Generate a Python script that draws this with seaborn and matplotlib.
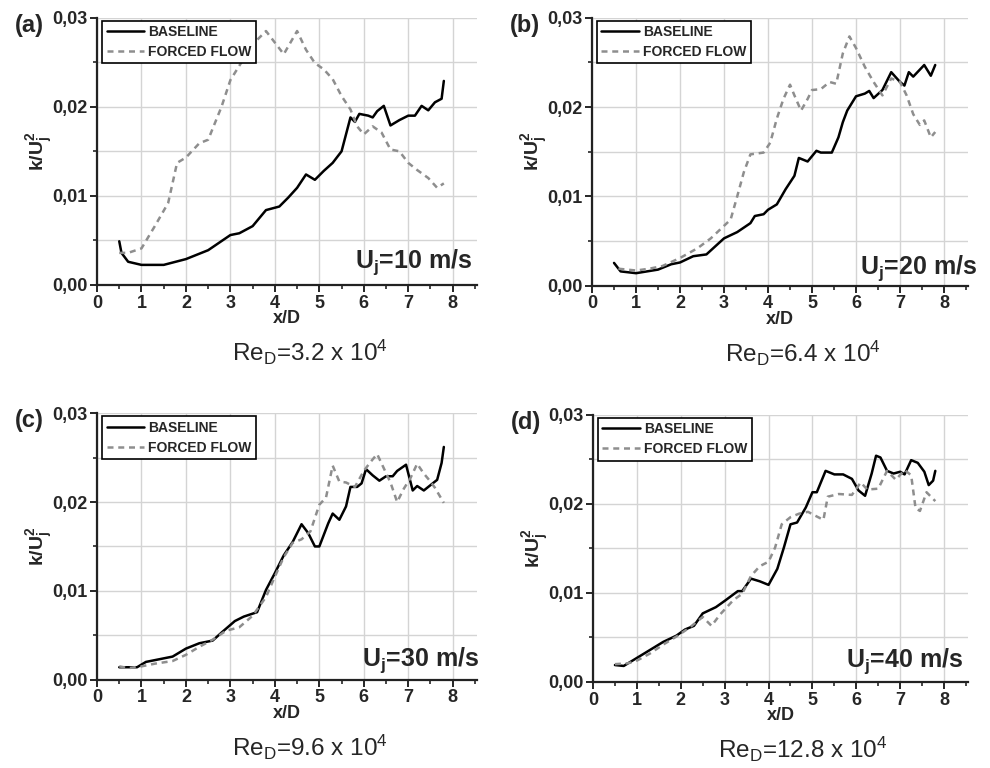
import matplotlib
matplotlib.use("Agg")
import matplotlib.pyplot as plt
import seaborn as sns
import pandas as pd
from matplotlib.ticker import MultipleLocator, FuncFormatter

# ---------------- data ----------------
a_base_x = [0.5, 0.55, 0.7, 1.0, 1.5, 2.0, 2.5, 3.0, 3.2, 3.5, 3.8, 4.1, 4.3, 4.5, 4.7, 4.9, 5.1, 5.3, 5.5, 5.7, 5.8, 5.9, 6.1, 6.2, 6.3, 6.45, 6.6, 6.8, 7.0, 7.15, 7.3, 7.45, 7.6, 7.75, 7.8]
a_base_y = [0.0049, 0.0036, 0.0026, 0.00225, 0.00225, 0.0029, 0.0039, 0.0056, 0.0058, 0.0066, 0.0084, 0.0088, 0.0098, 0.0109, 0.0124, 0.0118, 0.0128, 0.0137, 0.0150, 0.0188, 0.0183, 0.0192, 0.0190, 0.0188, 0.0195, 0.0201, 0.0179, 0.0185, 0.0190, 0.0190, 0.0201, 0.0196, 0.0205, 0.0209, 0.0229]
a_forc_x = [0.5, 0.7, 1.0, 1.3, 1.6, 1.8, 2.0, 2.3, 2.5, 2.8, 3.0, 3.2, 3.5, 3.8, 4.0, 4.2, 4.5, 4.7, 4.9, 5.1, 5.3, 5.5, 5.7, 5.85, 6.0, 6.2, 6.4, 6.6, 6.8, 7.0, 7.2, 7.45, 7.65, 7.8]
a_forc_y = [0.0036, 0.0036, 0.0041, 0.0066, 0.0092, 0.0137, 0.0143, 0.0159, 0.0163, 0.0200, 0.0230, 0.0246, 0.0270, 0.0285, 0.0272, 0.0259, 0.0285, 0.0264, 0.0249, 0.0242, 0.0231, 0.0212, 0.0197, 0.0178, 0.0169, 0.0178, 0.0171, 0.0152, 0.0150, 0.0137, 0.0129, 0.0120, 0.0109, 0.0114]

b_base_x = [0.5, 0.65, 1.0, 1.5, 1.8, 2.0, 2.3, 2.6, 2.8, 3.0, 3.3, 3.6, 3.7, 3.9, 4.0, 4.2, 4.4, 4.6, 4.7, 4.9, 5.1, 5.2, 5.45, 5.6, 5.7, 5.8, 6.0, 6.2, 6.3, 6.4, 6.6, 6.8, 7.0, 7.1, 7.2, 7.3, 7.55, 7.7, 7.8]
b_base_y = [0.00255, 0.0016, 0.0014, 0.0018, 0.0024, 0.0026, 0.0033, 0.0035, 0.0044, 0.0053, 0.0060, 0.0070, 0.0078, 0.0080, 0.0085, 0.0091, 0.0108, 0.0123, 0.0143, 0.0139, 0.0151, 0.0149, 0.0149, 0.0166, 0.0183, 0.0196, 0.0212, 0.0215, 0.0218, 0.0210, 0.0219, 0.0239, 0.0228, 0.0224, 0.0239, 0.0234, 0.0247, 0.0235, 0.0247]
b_forc_x = [0.6, 1.0, 1.3, 1.6, 2.0, 2.4, 2.7, 3.0, 3.15, 3.3, 3.45, 3.6, 3.9, 4.05, 4.2, 4.35, 4.5, 4.6, 4.75, 4.9, 5.0, 5.2, 5.4, 5.55, 5.7, 5.85, 6.0, 6.2, 6.4, 6.6, 6.8, 7.0, 7.15, 7.3, 7.45, 7.55, 7.7, 7.8]
b_forc_y = [0.0019, 0.0017, 0.0019, 0.0022, 0.0031, 0.0042, 0.0053, 0.0067, 0.0074, 0.0100, 0.0127, 0.0147, 0.0149, 0.0160, 0.0187, 0.0209, 0.0225, 0.0213, 0.0196, 0.0209, 0.0219, 0.0220, 0.0228, 0.0226, 0.0260, 0.0279, 0.0266, 0.0245, 0.0228, 0.0213, 0.0232, 0.0228, 0.0213, 0.0192, 0.0180, 0.0185, 0.0166, 0.0172]

c_base_x = [0.5, 0.9, 1.1, 1.4, 1.7, 2.0, 2.3, 2.6, 2.8, 3.1, 3.3, 3.6, 3.8, 4.0, 4.2, 4.4, 4.6, 4.75, 4.9, 5.0, 5.2, 5.3, 5.45, 5.6, 5.7, 5.85, 5.95, 6.05, 6.2, 6.35, 6.5, 6.65, 6.75, 6.95, 7.1, 7.2, 7.35, 7.5, 7.65, 7.75, 7.8]
c_base_y = [0.0014, 0.0014, 0.0020, 0.0023, 0.0026, 0.0035, 0.0041, 0.0044, 0.0053, 0.0066, 0.0071, 0.0076, 0.0101, 0.0120, 0.0140, 0.0155, 0.0175, 0.0165, 0.0150, 0.0150, 0.0176, 0.0187, 0.0180, 0.0195, 0.0217, 0.0217, 0.0221, 0.0237, 0.0230, 0.0224, 0.0229, 0.0229, 0.0235, 0.0242, 0.0213, 0.0218, 0.0213, 0.0219, 0.0225, 0.0244, 0.0262]
c_forc_x = [0.5, 0.7, 1.0, 1.3, 1.7, 2.0, 2.3, 2.6, 2.9, 3.2, 3.5, 3.8, 4.0, 4.2, 4.4, 4.6, 4.8, 5.0, 5.15, 5.3, 5.45, 5.6, 5.8, 6.0, 6.15, 6.3, 6.45, 6.6, 6.75, 6.9, 7.05, 7.2, 7.35, 7.5, 7.6, 7.8]
c_forc_y = [0.0015, 0.0013, 0.0015, 0.0018, 0.0021, 0.0028, 0.0037, 0.0045, 0.0055, 0.0059, 0.0072, 0.0093, 0.0116, 0.0138, 0.0154, 0.0158, 0.0167, 0.0197, 0.0205, 0.0241, 0.0223, 0.0222, 0.0217, 0.0235, 0.0245, 0.0254, 0.0238, 0.0222, 0.0200, 0.0215, 0.0227, 0.0243, 0.0232, 0.0223, 0.0216, 0.0199]

d_base_x = [0.5, 0.7, 1.0, 1.3, 1.6, 1.9, 2.1, 2.3, 2.5, 2.8, 3.0, 3.3, 3.4, 3.6, 3.8, 4.0, 4.2, 4.35, 4.5, 4.65, 4.85, 5.0, 5.1, 5.3, 5.5, 5.7, 5.9, 6.05, 6.2, 6.35, 6.45, 6.55, 6.7, 6.85, 7.0, 7.1, 7.25, 7.4, 7.55, 7.65, 7.75, 7.8]
d_base_y = [0.0019, 0.0018, 0.0027, 0.0036, 0.0045, 0.0052, 0.0059, 0.0063, 0.0077, 0.0084, 0.0091, 0.0102, 0.0102, 0.0116, 0.0113, 0.0109, 0.0127, 0.0151, 0.0177, 0.0179, 0.0196, 0.0213, 0.0213, 0.0237, 0.0233, 0.0233, 0.0228, 0.0215, 0.0209, 0.0234, 0.0254, 0.0252, 0.0237, 0.0234, 0.0236, 0.0233, 0.0249, 0.0246, 0.0236, 0.0221, 0.0226, 0.0237]
d_forc_x = [0.5, 0.8, 1.0, 1.3, 1.6, 1.9, 2.2, 2.5, 2.7, 2.9, 3.2, 3.4, 3.6, 3.8, 4.0, 4.15, 4.3, 4.5, 4.7, 4.9, 5.05, 5.25, 5.35, 5.6, 5.9, 6.1, 6.25, 6.5, 6.7, 6.9, 7.1, 7.25, 7.35, 7.45, 7.6, 7.8]
d_forc_y = [0.0020, 0.0021, 0.0024, 0.0032, 0.0042, 0.0051, 0.0061, 0.0073, 0.0063, 0.0076, 0.0092, 0.0099, 0.0119, 0.0130, 0.0135, 0.0151, 0.0177, 0.0185, 0.0189, 0.0191, 0.0187, 0.0182, 0.0208, 0.0211, 0.0210, 0.0224, 0.0216, 0.0217, 0.0237, 0.0227, 0.0238, 0.0232, 0.0195, 0.0192, 0.0213, 0.0203]

panel_labels = ["(a)", "(b)", "(c)", "(d)"]
speed_labels = ["10", "20", "30", "40"]
re_labels = ["3.2", "6.4", "9.6", "12.8"]
series_names = ["BASELINE", "FORCED FLOW"]

panels = [
    (a_base_x, a_base_y, a_forc_x, a_forc_y),
    (b_base_x, b_base_y, b_forc_x, b_forc_y),
    (c_base_x, c_base_y, c_forc_x, c_forc_y),
    (d_base_x, d_base_y, d_forc_x, d_forc_y),
]

# ---------------- style ----------------
sns.set_theme(style="ticks")
plt.rcParams["font.family"] = ["Liberation Sans", "DejaVu Sans"]
plt.rcParams["mathtext.fontset"] = "custom"
plt.rcParams["mathtext.rm"] = "Liberation Sans"
plt.rcParams["mathtext.bf"] = "Liberation Sans:bold"
plt.rcParams["mathtext.it"] = "Liberation Sans:italic"

fig = plt.figure(figsize=(9.9, 7.68), dpi=100)

positions = [
    (0.098, 0.629, 0.384, 0.348),
    (0.598, 0.628, 0.380, 0.349),
    (0.098, 0.115, 0.384, 0.347),
    (0.599, 0.112, 0.379, 0.348),
]
uj_pos = [(0.987, 0.064), (1.024, 0.045), (1.005, 0.052), (0.987, 0.056)]

def fmt(v, _):
    return ("%.2f" % v).replace(".", ",")

for i, (bx, by, fx, fy) in enumerate(panels):
    ax = fig.add_axes(positions[i])
    df = pd.concat([
        pd.DataFrame({"x": bx, "k": by, "series": series_names[0]}),
        pd.DataFrame({"x": fx, "k": fy, "series": series_names[1]}),
    ], ignore_index=True)
    sns.lineplot(data=df, x="x", y="k", hue="series", style="series",
                 palette={series_names[0]: "black", series_names[1]: "#8e8e8e"},
                 dashes={series_names[0]: "", series_names[1]: (2.4, 1.9)},
                 linewidth=1.8, ax=ax, sort=False, estimator=None)
    ax.set_xlim(0, 8.55)
    ax.set_ylim(0, 0.03)
    ax.xaxis.set_major_locator(MultipleLocator(1))
    ax.xaxis.set_minor_locator(MultipleLocator(0.5))
    ax.yaxis.set_major_locator(MultipleLocator(0.01))
    ax.yaxis.set_minor_locator(MultipleLocator(0.005))
    ax.yaxis.set_major_formatter(FuncFormatter(fmt))
    ax.grid(True, which="major", axis="x", color="#d4d4d4", linewidth=1.0)
    ax.grid(True, which="both", axis="y", color="#d4d4d4", linewidth=1.0)
    ax.set_axisbelow(True)
    for s in ["top", "right"]:
        ax.spines[s].set_visible(False)
    for s in ["left", "bottom"]:
        ax.spines[s].set_linewidth(1.6)
        ax.spines[s].set_color("#222222")
    ax.tick_params(axis="both", which="major", length=5, width=1.4, labelsize=13, pad=2)
    ax.tick_params(axis="both", which="minor", length=3, width=1.2)
    for lab in ax.get_xticklabels() + ax.get_yticklabels():
        lab.set_fontweight("bold")
    ax.set_xlabel("x/D", fontsize=13, fontweight="bold", labelpad=-1)
    ax.set_ylabel(r"$\mathbf{k/U_j^2}$", fontsize=14, labelpad=-2)

    leg = ax.legend(loc="upper left", bbox_to_anchor=(0.014, 0.988), frameon=True,
                    fancybox=False, edgecolor="black", framealpha=1,
                    prop={"weight": "bold", "size": 10}, handlelength=2.7,
                    borderpad=0.3, labelspacing=0.45, handletextpad=0.3, borderaxespad=0.0)
    leg.get_frame().set_linewidth(1.2)
    for h in leg.get_lines():
        h.set_linewidth(1.8)

    ax.text(uj_pos[i][0], uj_pos[i][1], r"$\mathbf{U_j}$" + "=" + speed_labels[i] + " m/s",
            transform=ax.transAxes, ha="right", va="baseline", fontsize=18, fontweight="bold",
            clip_on=False)

    x0, y0, w, h = positions[i]
    fig.text(x0 - 0.083, y0 + h - 0.01, panel_labels[i], fontsize=17, fontweight="bold",
             ha="left", va="center")
    fig.text(x0 + w * 0.56, y0 - 0.088, r"Re$_{\mathrm{D}}$=" + re_labels[i] + r" x 10$^{4}$",
             fontsize=17.5, ha="center", va="center")

fig.savefig("out.png", dpi=100)
